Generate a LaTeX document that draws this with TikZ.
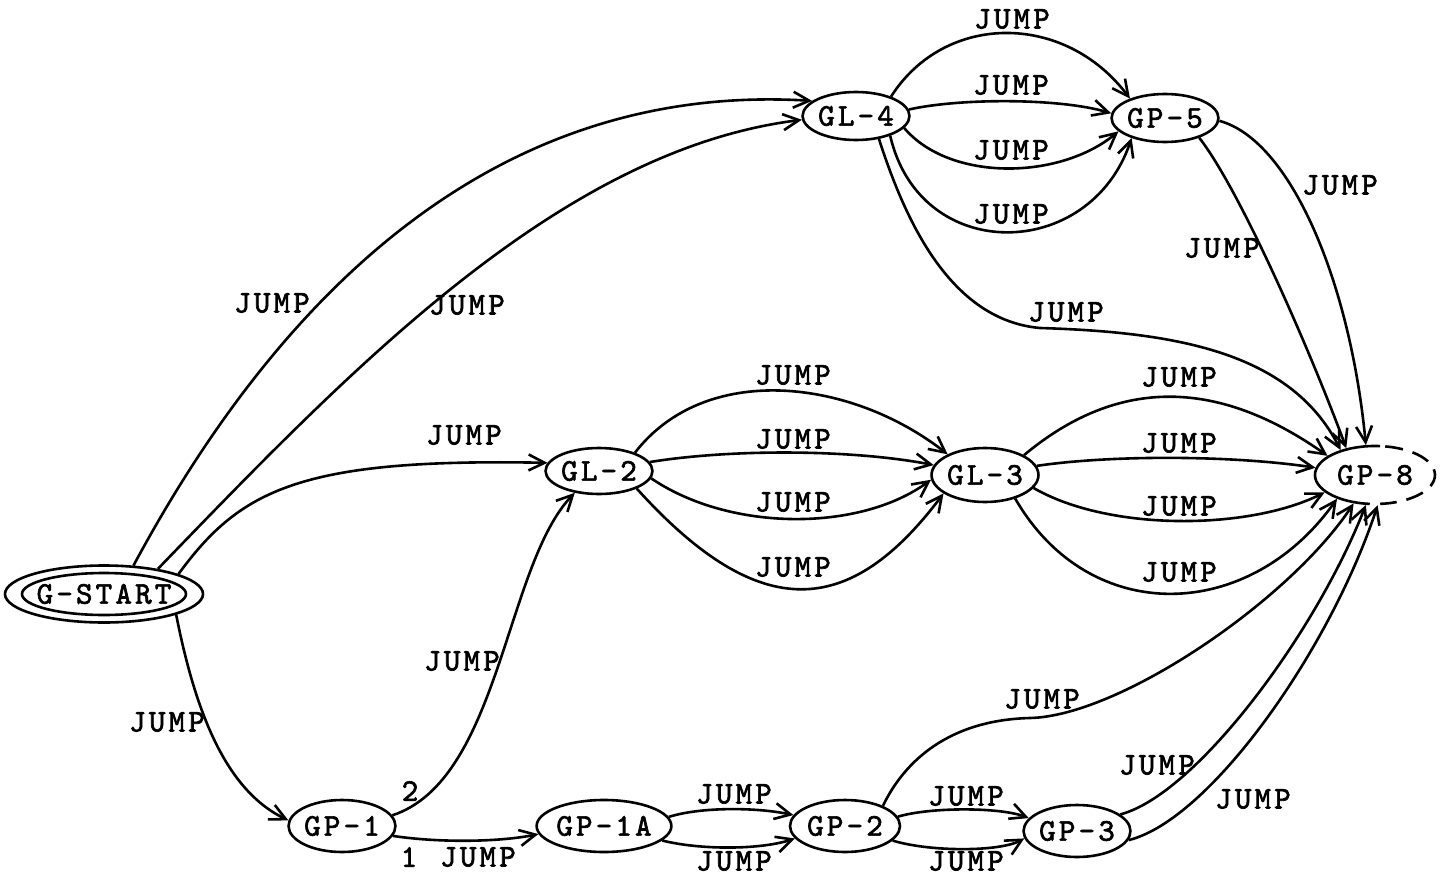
\documentclass[tikz,border=0pt]{standalone}
\usepackage{fontspec}
\newfontfamily\tw{lmmono10-regular.otf}[LetterSpace=10,FakeBold=2]
\usetikzlibrary{arrows.meta,shapes.geometric}
\begin{document}
\begin{tikzpicture}[x=1pt,y=-1pt,
  every node/.style={font=\tw\fontsize{31.5}{32}\selectfont, inner sep=0pt},
  st/.style={ellipse, draw, line width=2.6pt},
  cn/.style={line width=2.6pt, -{Straight Barb[length=16pt,width=16pt]}},
  ]
\useasboundingbox (0,0) rectangle (1446,878);

% ---- states ----
\node[st, minimum width=198, minimum height=57] (gs) at (104,594) {G-START};
\draw[line width=2.6pt] (gs.center) ellipse [x radius=82, y radius=21];
\node[st, minimum width=102, minimum height=48] (gl4) at (856,116) {GL-4};
\node[st, minimum width=104, minimum height=48] (gp5) at (1165,118) {GP-5};
\node[st, minimum width=102, minimum height=46] (gl2) at (599,471) {GL-2};
\node[st, minimum width=104, minimum height=54] (gl3) at (985,475) {GL-3};
\node[st, draw=none, minimum width=120, minimum height=58] (gp8) at (1375,475) {GP-8};
\draw[line width=2.6pt] (gp8.center) ++(5.2,-28.9) arc[start angle=275, end angle=95, x radius=60, y radius=29];
\draw[line width=2.6pt, dash pattern=on 18pt off 10pt, dash phase=23pt]
  (gp8.center) ++(5.2,-28.9) arc[start angle=-85, end angle=85, x radius=60, y radius=29];
\node[st, minimum width=104, minimum height=52] (gp1) at (342,826) {GP-1};
\node[st, minimum width=116, minimum height=52] (gp1a) at (604,826) {GP-1A};
\node[st, minimum width=110, minimum height=52] (gp2) at (845,826) {GP-2};
\node[st, minimum width=106, minimum height=52] (gp3) at (1077,831) {GP-3};

% ---- waypoints of the two long S-shaped jumps ----
\coordinate (w1) at (1030,718);
\coordinate (w2) at (1040,328);

% ---- transitions ----
\draw[cn] (gs.44) .. controls (260,330) and (470,80) .. (gl4.161);
\draw[cn] (gs.25) .. controls (350,370) and (560,150) .. (gl4.184);
\draw[cn] (gs.15) .. controls (240,490) and (300,458) .. (gl2.171);
\draw[cn] (gs.-16) .. controls (195,710) and (225,790) .. (gp1.174);

\draw[cn] (gp1.12) .. controls (500,780) and (505,565) .. (gl2.222);
\draw[cn] (gp1.-11) .. controls (440,843) and (500,842) .. (gp1a.187);

\draw[cn] (gp1a.8) .. controls (700,807) and (755,807) .. (gp2.168);
\draw[cn] (gp1a.-14) .. controls (700,850) and (760,850) .. (gp2.194);

\draw[cn] (gp2.10) .. controls (930,807) and (1000,807) .. (gp3.165);
\draw[cn] (gp2.-17) .. controls (930,852) and (1000,852) .. (gp3.188);
\draw[cn] (gp2.28) .. controls (905,760) and (950,720) .. (w1)
                   .. controls (1120,716) and (1290,600) .. (gp8.233);

\draw[cn] (gp3.21) .. controls (1195,795) and (1315,635) .. (gp8.253);
\draw[cn] (gp3.-10) .. controls (1210,820) and (1330,650) .. (gp8.275);

\draw[cn] (gl2.27) .. controls (705,362) and (850,378) .. (gl3.151);
\draw[cn] (gl2.10) .. controls (730,449) and (850,449) .. (gl3.169);
\draw[cn] (gl2.-8) .. controls (730,532) and (860,532) .. (gl3.185);
\draw[cn] (gl2.-25) .. controls (760,625) and (850,618) .. (gl3.204);

\draw[cn] (gl3.27) .. controls (1120,375) and (1220,380) .. (gp8.158);
\draw[cn] (gl3.10) .. controls (1110,455) and (1230,455) .. (gp8.173);
\draw[cn] (gl3.-15) .. controls (1110,532) and (1250,530) .. (gp8.199);
\draw[cn] (gl3.-38) .. controls (1090,628) and (1250,622) .. (gp8.212);

\draw[cn] (gl4.29) .. controls (945,12) and (1065,12) .. (gp5.151);
\draw[cn] (gl4.7) .. controls (960,98) and (1060,98) .. (gp5.175);
\draw[cn] (gl4.-14) .. controls (950,182) and (1060,180) .. (gp5.196);
\draw[cn] (gl4.-30) .. controls (920,265) and (1090,262) .. (gp5.211);
\draw[cn] (gl4.-45) .. controls (905,220) and (950,320) .. (w2)
                    .. controls (1170,332) and (1290,350) .. (gp8.144);

\draw[cn] (gp5.-3) .. controls (1290,140) and (1350,280) .. (gp8.107);
\draw[cn] (gp5.-30) .. controls (1240,190) and (1310,350) .. (gp8.137);

% ---- labels ----
\node (a1) at (272,303) {JUMP};
\node (a2) at (467,305) {JUMP};
\node (a3) at (464,435) {JUMP};
\node (a4) at (167,722) {JUMP};
\node (a5) at (462,661) {JUMP};
\node (n2) at (410,791) {2};
\node (n1) at (409,857) {1};
\node (a6) at (478,857) {JUMP};
\node (a7) at (734,794) {JUMP};
\node (a8) at (734,861) {JUMP};
\node (a9) at (966,796) {JUMP};
\node (a10) at (966,861) {JUMP};
\node (a11) at (1042,699) {JUMP};
\node (a12) at (1157,765) {JUMP};
\node (a13) at (1253,799) {JUMP};
\node (b1) at (793,375) {JUMP};
\node (b2) at (793,439) {JUMP};
\node (b3) at (793,502) {JUMP};
\node (b4) at (793,567) {JUMP};
\node (c1) at (1179,377) {JUMP};
\node (c2) at (1179,443) {JUMP};
\node (c3) at (1179,506) {JUMP};
\node (c4) at (1179,572) {JUMP};
\node (d1) at (1012,19) {JUMP};
\node (d2) at (1011,85) {JUMP};
\node (d3) at (1011,150) {JUMP};
\node (d4) at (1011,214) {JUMP};
\node (d5) at (1066,312) {JUMP};
\node (e1) at (1340,185) {JUMP};
\node (e2) at (1222,248) {JUMP};
\end{tikzpicture}
\end{document}
